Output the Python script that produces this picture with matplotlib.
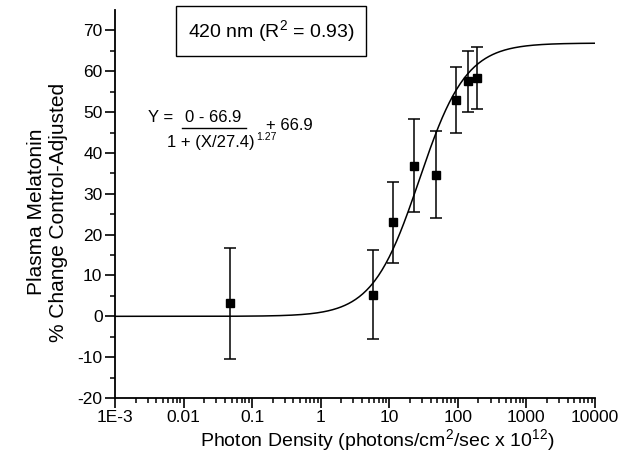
import numpy as np
import matplotlib
matplotlib.use("Agg")
import matplotlib.pyplot as plt
from matplotlib.lines import Line2D

# Data
photon_density = [0.048, 5.8, 11.3, 22.8, 47.8, 93.6, 140, 189]
melatonin_change = [3.2, 5.3, 23.0, 36.9, 34.7, 53.0, 57.5, 58.4]
error_sd = [13.6, 10.9, 9.9, 11.3, 10.6, 8.0, 7.5, 7.6]

# Fit parameters (from the equation in the chart)
fit_A1 = 0.0
fit_A2 = 66.9
fit_x0 = 27.4
fit_p = 1.27

x_ticks = [1e-3, 1e-2, 1e-1, 1, 10, 100, 1000, 10000]
x_tick_labels = ["1E-3", "0.01", "0.1", "1", "10", "100", "1000", "10000"]
y_ticks = list(range(-20, 71, 10))

plt.rcParams['font.family'] = ['Liberation Sans', 'DejaVu Sans']
plt.rcParams['axes.unicode_minus'] = False
plt.rcParams['mathtext.fontset'] = 'custom'
plt.rcParams['mathtext.rm'] = 'Liberation Sans'
plt.rcParams['mathtext.it'] = 'Liberation Sans:italic'
plt.rcParams['mathtext.bf'] = 'Liberation Sans:bold'

W, H = 629, 466
fig = plt.figure(figsize=(W / 100, H / 100), dpi=100)
ax = fig.add_axes([115 / W, 1 - 398 / H, (595 - 115) / W, (398 - 10) / H])

xs = np.logspace(-3, 4, 400)
ys = (fit_A1 - fit_A2) / (1 + (xs / fit_x0) ** fit_p) + fit_A2
ax.plot(xs, ys, color='black', lw=1.1)

ax.errorbar(photon_density, melatonin_change, yerr=error_sd, fmt='s',
            color='black', ms=6, capsize=4, elinewidth=1.1, capthick=1.1)

ax.set_xscale('log')
ax.set_xlim(1e-3, 1e4)
ax.set_ylim(-20, 75)
ax.set_xticks(x_ticks)
ax.set_xticklabels(x_tick_labels)
ax.set_yticks(y_ticks)
ax.set_yticks(np.arange(-15, 75, 10), minor=True)
ax.xaxis.set_minor_locator(matplotlib.ticker.LogLocator(base=10, subs=np.arange(2, 10), numticks=20))
ax.xaxis.set_minor_formatter(matplotlib.ticker.NullFormatter())

for s in ['top', 'right']:
    ax.spines[s].set_visible(False)
for s in ['left', 'bottom']:
    ax.spines[s].set_linewidth(1.3)

ax.tick_params(which='major', direction='out', length=7, width=1.2, labelsize=12.5, pad=2)
ax.tick_params(which='minor', direction='out', length=3.5, width=1.1)

ax.set_xlabel("Photon Density (photons/cm$^2$/sec x 10$^{12}$)", fontsize=14)
ax.xaxis.set_label_coords((377 - 115) / 480, -(440 - 398) / 388, transform=ax.transAxes)
ax.get_xaxis().label.set_va('center')
ax.set_ylabel("Plasma Melatonin\n% Change Control-Adjusted", fontsize=15,
              linespacing=1.2)
ax.yaxis.set_label_coords(-(115 - 48) / 480, (398 - 212) / 388, transform=ax.transAxes)
ax.get_yaxis().label.set_ha('center')
ax.get_yaxis().label.set_va('center')

def fx(px):
    return px / W

def fy(py):
    return 1 - py / H

fig.text(fx(271), fy(31), "420 nm (R$^2$ = 0.93)", ha='center', va='center', fontsize=14,
         bbox=dict(boxstyle='square,pad=0.6', fc='white', ec='black', lw=1.0))

fig.text(fx(148), fy(118), "Y =", ha='left', va='center', fontsize=12)
fig.text(fx(213), fy(117), "0 - 66.9", ha='center', va='center', fontsize=12)
fig.add_artist(Line2D([fx(182), fx(246)], [fy(128), fy(128)], color='black', lw=1.0))
fig.text(fx(255), fy(143), "1 + (X/27.4)", ha='right', va='center', fontsize=12)
fig.text(fx(256), fy(137), "1.27", ha='left', va='center', fontsize=7.5)
fig.text(fx(266), fy(126), "+ 66.9", ha='left', va='center', fontsize=12)

fig.savefig("out.png", dpi=100)
